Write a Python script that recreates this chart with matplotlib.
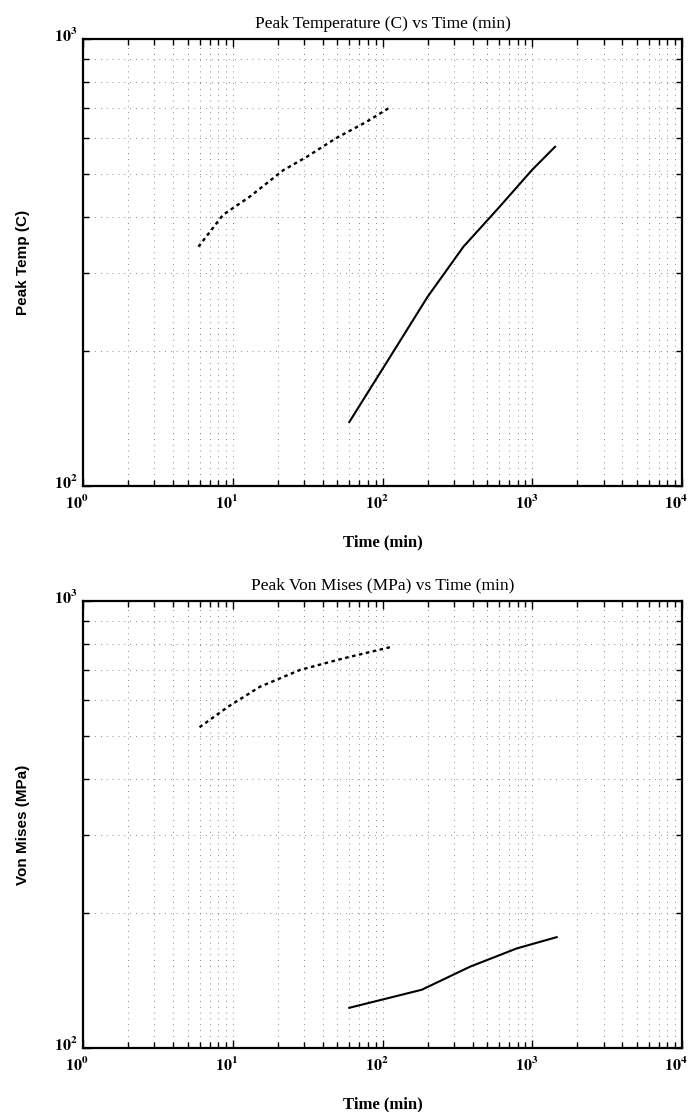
import math
import matplotlib
matplotlib.use("Agg")
import matplotlib.pyplot as plt
from matplotlib.ticker import FuncFormatter, LogLocator, NullFormatter
from matplotlib.transforms import ScaledTranslation

# ---- data ----
temp_dash_t = [5.9, 8.6, 13.0, 21.8, 31.2, 49.0, 78.4, 112.0]
temp_dash_v = [343, 404, 444, 509, 545, 600, 653, 703]
temp_solid_t = [60, 124, 200, 347, 600, 1000, 1420]
temp_solid_v = [139, 205, 265, 343, 420, 510, 574]

vm_dash_t = [6.0, 9.3, 15.2, 28.1, 54.7, 112.0]
vm_dash_v = [522, 580, 643, 701, 744, 788]
vm_solid_t = [60, 183, 384, 787, 1456]
vm_solid_v = [123, 135, 152, 167, 177]

titles = ["Peak Temperature (C) vs Time (min)", "Peak Von Mises (MPa) vs Time (min)"]
ylabels = ["Peak Temp (C)", "Von Mises (MPa)"]
xlabel = "Time (min)"

plt.rcParams['mathtext.fontset'] = 'stix'

fig = plt.figure(figsize=(6.91, 11.12), dpi=100)
W, H = 691, 1112
boxes = [(83, 39, 682, 486), (83, 601, 682, 1048)]
series = [(temp_dash_t, temp_dash_v, temp_solid_t, temp_solid_v),
          (vm_dash_t, vm_dash_v, vm_solid_t, vm_solid_v)]

fmt = FuncFormatter(lambda v, p: r'$\mathbf{10^{%d}}$' % round(math.log10(v)))

for i, (l, t, r, b) in enumerate(boxes):
    ax = fig.add_axes([l / W, 1 - b / H, (r - l) / W, (b - t) / H])
    dt, dv, st, sv = series[i]
    ax.set_xscale('log')
    ax.set_yscale('log')
    ax.set_xlim(1, 1e4)
    ax.set_ylim(100, 1000)
    ax.plot(dt, dv, color='black', lw=1.7, linestyle=(0, (1.5, 1.5)))
    ax.plot(st, sv, color='black', lw=1.5, linestyle='-')
    ax.xaxis.set_major_locator(LogLocator(base=10, numticks=10))
    ax.xaxis.set_minor_locator(LogLocator(base=10, subs=range(2, 10), numticks=10))
    ax.yaxis.set_major_locator(LogLocator(base=10, numticks=10))
    ax.yaxis.set_minor_locator(LogLocator(base=10, subs=range(2, 10), numticks=10))
    ax.xaxis.set_major_formatter(fmt)
    ax.yaxis.set_major_formatter(fmt)
    ax.xaxis.set_minor_formatter(NullFormatter())
    ax.yaxis.set_minor_formatter(NullFormatter())
    ax.grid(which='both', color='0.4', linestyle=(0, (1, 6)), linewidth=0.6)
    ax.tick_params(which='both', direction='in', top=True, right=True, width=1.0,
                   labelsize=11.5, pad=4)
    ax.tick_params(axis='x', which='major', pad=6)
    ax.tick_params(which='major', length=6)
    ax.tick_params(which='minor', length=4)
    for s in ax.spines.values():
        s.set_linewidth(1.6)
    offx = ScaledTranslation(-6 / 100, 0, fig.dpi_scale_trans)
    for lab in ax.get_xticklabels():
        lab.set_transform(lab.get_transform() + offx)
    offy = ScaledTranslation(0, 5 / 100, fig.dpi_scale_trans)
    for lab in ax.get_yticklabels():
        lab.set_transform(lab.get_transform() + offy)
    ax.set_title(titles[i], fontsize=12.5, family='Liberation Serif', pad=8)
    ax.set_xlabel(xlabel, fontsize=12, family='Liberation Serif', fontweight='bold', labelpad=16)
    ax.set_ylabel(ylabels[i], fontsize=11, family='Liberation Sans', fontweight='bold', labelpad=17)

fig.savefig("out.png", dpi=100)
